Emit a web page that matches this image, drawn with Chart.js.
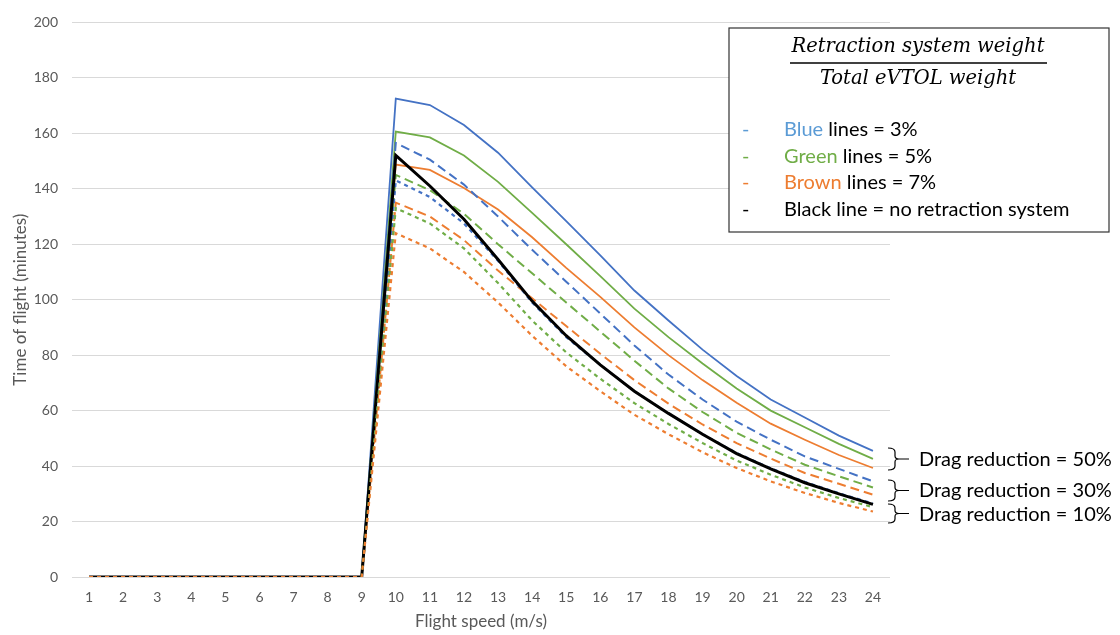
<!DOCTYPE html>
<html>
<head>
<script src="https://cdn.jsdelivr.net/npm/chart.js@4.4.1/dist/chart.umd.min.js"></script>
<style>
  body { margin: 0; background: #fff; }
</style>
</head>
<body>
<canvas id="myChart" width="1120" height="635"></canvas>
<script>
// flight speed categories (m/s)
var speeds = ['1','2','3','4','5','6','7','8','9','10','11','12','13','14','15','16','17','18','19','20','21','22','23','24'];
var yTicks = [0, 20, 40, 60, 80, 100, 120, 140, 160, 180, 200];

// drag reduction 50% (solid)
var blue50  = [0,0,0,0,0,0,0,0,0, 172.5,170.2,163,153,140.5,128.3,116,103.3,92.5,82,72.5,64,57.5,51,45.5];
var green50 = [0,0,0,0,0,0,0,0,0, 160.6,158.5,152,142.5,131.3,120,108.5,96.8,86.5,77,68,60,54,48,42.6];
var brown50 = [0,0,0,0,0,0,0,0,0, 148.7,146.8,140.3,132.5,122.5,111.5,101,90,80,71,62.8,55.3,49.5,44,39.3];
// drag reduction 30% (dashed)
var blue30  = [0,0,0,0,0,0,0,0,0, 156.5,150.5,141.5,130,118,106.5,95,83.5,73,64,56,49.5,43.5,39,34.5];
var green30 = [0,0,0,0,0,0,0,0,0, 145,139.5,131,120,109.5,99,88.5,78,68,59.5,52,46,40.5,36.3,32.3];
var brown30 = [0,0,0,0,0,0,0,0,0, 135,130,121.5,110.5,100.5,90.5,80.5,71,62.5,55,48.3,42.7,37.5,33.6,29.7];
// drag reduction 10% (short dashes)
var blue10  = [0,0,0,0,0,0,0,0,0, 143,137,127.5,114,99,86.5,76.5,67,59,51.5,44.7,39.2,34.3,30.2,26.5];
var green10 = [0,0,0,0,0,0,0,0,0, 133,127.5,118.5,106,92.5,81,71.5,62.7,55.2,48.3,42,36.9,32.3,28.5,25.2];
var brown10 = [0,0,0,0,0,0,0,0,0, 124,118.5,110,99,87,76,67,58.5,51.5,45,39.3,34.5,30.3,26.7,23.6];
// no retraction system
var noRetraction = [0,0,0,0,0,0,0,0,0, 152,141,129,114.5,99.5,87,76.5,67,59,51.5,44.5,39,34,30,26.2];

var BLUE = '#4472C4', GREEN = '#70AD47', BROWN = '#ED7D31';
var LONG = [9, 5], SHORT = [4, 4];

function ds(data, color, dash, width) {
    return {
        data: data,
        borderColor: color,
        borderWidth: width || 1.8,
        borderDash: dash || [],
        pointRadius: 0,
        tension: 0,
        fill: false
    };
}

// first dataset is drawn on top
var datasets = [
    ds(brown10, BROWN, SHORT, 2.2),
    ds(green10, GREEN, SHORT, 2.2),
    ds(noRetraction, '#000000', [], 3),
    ds(blue10, BLUE, SHORT, 2.2),
    ds(brown30, BROWN, LONG, 2),
    ds(green30, GREEN, LONG, 2),
    ds(blue30, BLUE, LONG, 2),
    ds(brown50, BROWN),
    ds(green50, GREEN),
    ds(blue50, BLUE)
];

function brace(ctx, x, y1, y2) {
    var ym = (y1 + y2) / 2;
    ctx.beginPath();
    ctx.moveTo(x - 5, y1);
    ctx.quadraticCurveTo(x + 2, y1, x + 2, y1 + 4);
    ctx.lineTo(x + 2, ym - 3);
    ctx.quadraticCurveTo(x + 2, ym, x + 6, ym);
    ctx.quadraticCurveTo(x + 2, ym, x + 2, ym + 3);
    ctx.lineTo(x + 2, y2 - 4);
    ctx.quadraticCurveTo(x + 2, y2, x - 5, y2);
    ctx.moveTo(x + 6, ym);
    ctx.lineTo(x + 16, ym);
    ctx.stroke();
}

var notes = {
    id: 'notes',
    afterDraw: function(chart) {
        var ctx = chart.ctx;
        ctx.save();
        // legend box
        ctx.strokeStyle = '#333';
        ctx.lineWidth = 1.2;
        ctx.fillStyle = '#fff';
        ctx.fillRect(729, 28, 380, 204);
        ctx.strokeRect(729, 28, 380, 204);

        ctx.fillStyle = '#000';
        ctx.textAlign = 'center';
        ctx.textBaseline = 'middle';
        ctx.font = 'italic 19.5px "DejaVu Serif"';
        ctx.fillText('Retraction system weight', 918, 47);
        ctx.fillText('Total eVTOL weight', 918, 79);
        ctx.beginPath();
        ctx.lineWidth = 1.5;
        ctx.strokeStyle = '#000';
        ctx.moveTo(790, 63);
        ctx.lineTo(1047, 63);
        ctx.stroke();

        var rows = [
            ['Blue', '#5B9BD5', ' lines = 3%', 130],
            ['Green', '#70AD47', ' lines = 5%', 157],
            ['Brown', '#ED7D31', ' lines = 7%', 183],
            ['Black', '#000000', ' line = no retraction system', 210]
        ];
        ctx.textAlign = 'left';
        ctx.font = '20px Lato';
        rows.forEach(function(r) {
            ctx.fillStyle = r[1];
            ctx.fillText('-', 742, r[3]);
            ctx.fillText(r[0], 784, r[3]);
            var w = ctx.measureText(r[0]).width;
            ctx.fillStyle = '#000';
            ctx.fillText(r[2], 784 + w, r[3]);
        });

        // drag reduction braces
        ctx.strokeStyle = '#000';
        ctx.lineWidth = 1.2;
        brace(ctx, 893, 448, 470);
        brace(ctx, 893, 480, 501);
        brace(ctx, 893, 504, 523);
        ctx.fillStyle = '#000';
        ctx.font = '20px Lato';
        ctx.fillText('Drag reduction = 50%', 919, 460);
        ctx.fillText('Drag reduction = 30%', 919, 491);
        ctx.fillText('Drag reduction = 10%', 919, 515);
        ctx.restore();
    }
};

var ctx = document.getElementById('myChart');
var myChart = new Chart(ctx, {
    type: 'line',
    data: { labels: speeds, datasets: datasets },
    options: {
        responsive: false,
        animation: false,
        devicePixelRatio: 1,
        layout: { padding: { left: 0, right: 230, top: 18, bottom: 0 } },
        plugins: { legend: { display: false }, tooltip: { enabled: false } },
        scales: {
            x: {
                offset: true,
                grid: { display: false, drawTicks: false },
                border: { display: false },
                ticks: { color: '#595959', font: { family: 'Lato', size: 14 }, padding: 12, maxRotation: 0, autoSkip: false },
                title: { display: true, text: 'Flight speed (m/s)', color: '#595959', font: { family: 'Lato', size: 17 }, padding: { top: 2, bottom: 3 } },
                afterFit: function(s) { s.height = 58; }
            },
            y: {
                min: 0,
                max: 200,
                afterBuildTicks: function(s) { s.ticks = yTicks.map(function(v) { return { value: v }; }); },
                grid: { color: '#d9d9d9', drawTicks: false },
                border: { display: false },
                ticks: { color: '#595959', font: { family: 'Lato', size: 14 }, padding: 14 },
                title: { display: true, text: 'Time of flight (minutes)', color: '#595959', font: { family: 'Lato', size: 17 }, padding: { top: 10, bottom: 0 } },
                afterFit: function(s) { s.width = 72; }
            }
        }
    },
    plugins: [notes]
});
</script>
</body>
</html>
